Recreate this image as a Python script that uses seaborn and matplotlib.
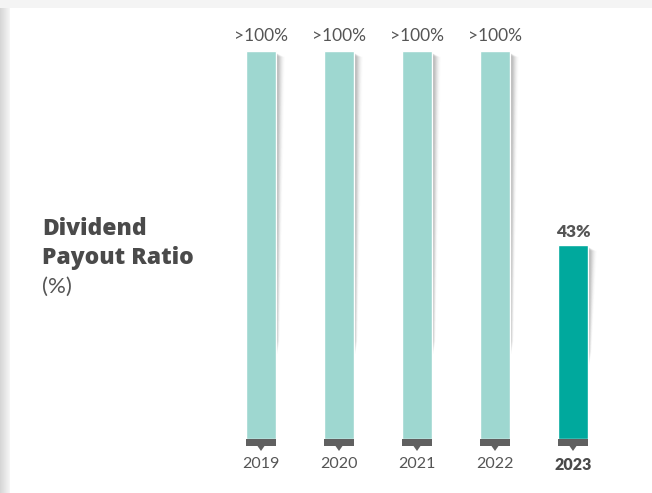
import numpy as np
import pandas as pd
import matplotlib.pyplot as plt
import seaborn as sns
from matplotlib.patches import Rectangle, Polygon

# data
years = ['2019', '2020', '2021', '2022', '2023']
bar_heights = [100, 100, 100, 100, 50]   # drawn height (bars are capped/not to scale)
value_labels = ['>100%', '>100%', '>100%', '>100%', '43%']
highlight = [False, False, False, False, True]

light_teal = '#9ed7d0'
dark_teal = '#00a99d'
cap_grey = '#606060'
text_grey = '#555555'

df = pd.DataFrame({'year': years, 'height': bar_heights})

sns.set_style('white')
plt.rcParams['font.family'] = ['Lato', 'DejaVu Sans']

W, H = 652, 493
fig = plt.figure(figsize=(W / 100, H / 100), dpi=100, facecolor='#f4f4f4')

# white card with soft shadow on the left
bg = fig.add_axes([0, 0, 1, 1], zorder=-5)
bg.set_xlim(0, W)
bg.set_ylim(H, 0)
bg.axis('off')
for i in range(10):
    shade = 0.84 + 0.12 * i / 9
    bg.add_patch(Rectangle((i, 8), 1.05, H, color=(shade, shade, shade), lw=0))
bg.add_patch(Rectangle((10, 8), W, H, color='white', lw=0))

# main axes: y = 0 at pixel 439, y = 100 at pixel 51
px_per_unit = (439 - 51) / 100
ymin = -4.5
bottom_px = 439 - ymin * px_per_unit
ax = fig.add_axes([222 / W, 1 - bottom_px / H, 390 / W, (bottom_px - 51) / H])
ax.patch.set_alpha(0)

palette = [dark_teal if h else light_teal for h in highlight]
bw = 0.385
sns.barplot(data=df, x='year', y='height', hue='year', palette=palette,
            width=bw, legend=False, ax=ax, zorder=3, saturation=1)

ax.set_xlim(-0.5, 4.5)
ax.set_ylim(ymin, 100)
upx = 1 / px_per_unit   # data units per pixel (y)
xpx = 5 / 390           # data units per pixel (x)

for i, (h, lab, hl) in enumerate(zip(bar_heights, value_labels, highlight)):
    # shadow to the right of each bar
    xr = i + bw / 2
    shadow_len = 290 * upx if h > 60 else h * 0.55
    for k in range(10):
        w = (1 + k * 0.9) * xpx
        a = 0.075 * (1 - k / 10)
        ax.add_patch(Polygon([(xr, h - 2 * upx), (xr + w, h - 6 * upx),
                              (xr + w * 0.4, h - shadow_len), (xr, h - shadow_len - 20 * upx)],
                             closed=True, color='black', alpha=a, lw=0, zorder=2))
    # dark base cap and marker
    ax.add_patch(Rectangle((i - bw / 2, -7 * upx), bw, 7 * upx, color=cap_grey,
                           lw=0, zorder=4, clip_on=False))
    ax.add_patch(Polygon([(i - 3.5 * xpx, -7 * upx), (i + 3.5 * xpx, -7 * upx), (i, -12 * upx)],
                         closed=True, color=cap_grey, lw=0, zorder=4, clip_on=False))
    ax.annotate(lab, (i, h), xytext=(0, 7 if not hl else 6), textcoords='offset points',
                ha='center', va='baseline', fontsize=12.5,
                fontweight='heavy' if hl else 'normal', color=text_grey)

ax.set_xlabel('')
ax.set_ylabel('')
ax.set_yticks([])
ax.tick_params(axis='x', length=0, pad=0.5, labelsize=11.5, labelcolor=text_grey)
for t, hl in zip(ax.get_xticklabels(), highlight):
    if hl:
        t.set_fontweight('heavy')
        t.set_color('#4a4a4a')
sns.despine(ax=ax, left=True, bottom=True)

# left-hand title
title_font = ['Open Sans', 'DejaVu Sans']
fig.text(42 / W, 1 - 235 / H, 'Dividend', fontsize=16.5, fontweight=800,
         family=title_font, color='#4a4a4a', va='baseline', ha='left')
fig.text(42 / W, 1 - 264 / H, 'Payout Ratio', fontsize=16.5, fontweight=800,
         family=title_font, color='#4a4a4a', va='baseline', ha='left')
fig.text(42 / W, 1 - 293 / H, '(%)', fontsize=16, color=text_grey,
         va='baseline', ha='left')

fig.savefig('out.png', dpi=100, facecolor=fig.get_facecolor())
